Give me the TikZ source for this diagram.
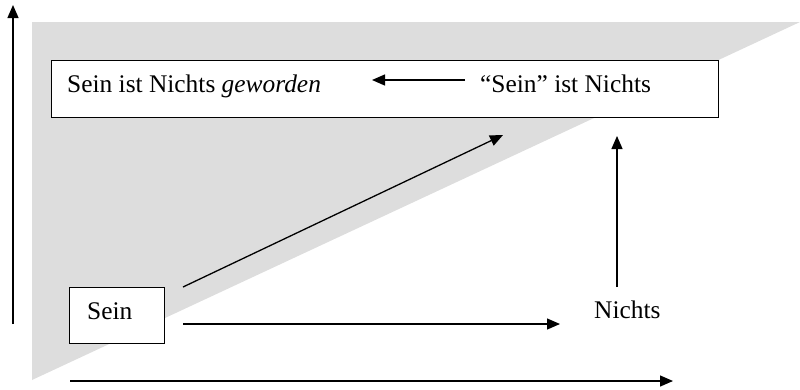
\documentclass[tikz,border=0pt]{standalone}
\usepackage{fontspec}
\setmainfont{Liberation Serif}
\usetikzlibrary{arrows.meta}
\begin{document}
\begin{tikzpicture}[x=1pt,y=-1pt,
  conn/.style={line width=1.3pt,-{Triangle[length=13pt,width=11pt]}},
  box/.style={draw,line width=1.3pt,fill=white,inner sep=0pt},
  lbl/.style={font=\fontsize{25.4}{30}\selectfont,inner sep=0pt,anchor=base west}]
\useasboundingbox (0,0) rectangle (800,389);
% shaded region
\fill[gray!27] (32,22) -- (800,22) -- (32,380) -- cycle;
% boxes
\node[box,minimum width=667pt,minimum height=57pt,anchor=north west] (top) at (51,60) {};
\node[box,minimum width=95pt,minimum height=56pt,anchor=north west] (sein) at (69,287) {};
% texts
\node[lbl] (geworden) at (67,92) {Sein ist Nichts \textit{geworden}};
\node[lbl] (seinq) at (480,92) {“Sein” ist Nichts};
\node[lbl] (seintxt) at (87,319) {Sein};
\node[lbl] (nichts) at (594,318) {Nichts};
% connector end points
\coordinate (a1) at (465,80);  \coordinate (a2) at (372,80);
\coordinate (b1) at (183,287); \coordinate (b2) at (503,135);
\coordinate (c1) at (617,287); \coordinate (c2) at (617,136);
\coordinate (d1) at (183,324); \coordinate (d2) at (560,324);
\coordinate (ex1) at (70,381); \coordinate (ex2) at (673,381);
\coordinate (ey1) at (13,324); \coordinate (ey2) at (13,5);
% connectors
\draw[conn] (a1) -- (a2);
\draw[conn] (b1) -- (b2);
\draw[conn] (c1) -- (c2);
\draw[conn] (d1) -- (d2);
\draw[conn] (ex1) -- (ex2);
\draw[conn] (ey1) -- (ey2);
\end{tikzpicture}
\end{document}
